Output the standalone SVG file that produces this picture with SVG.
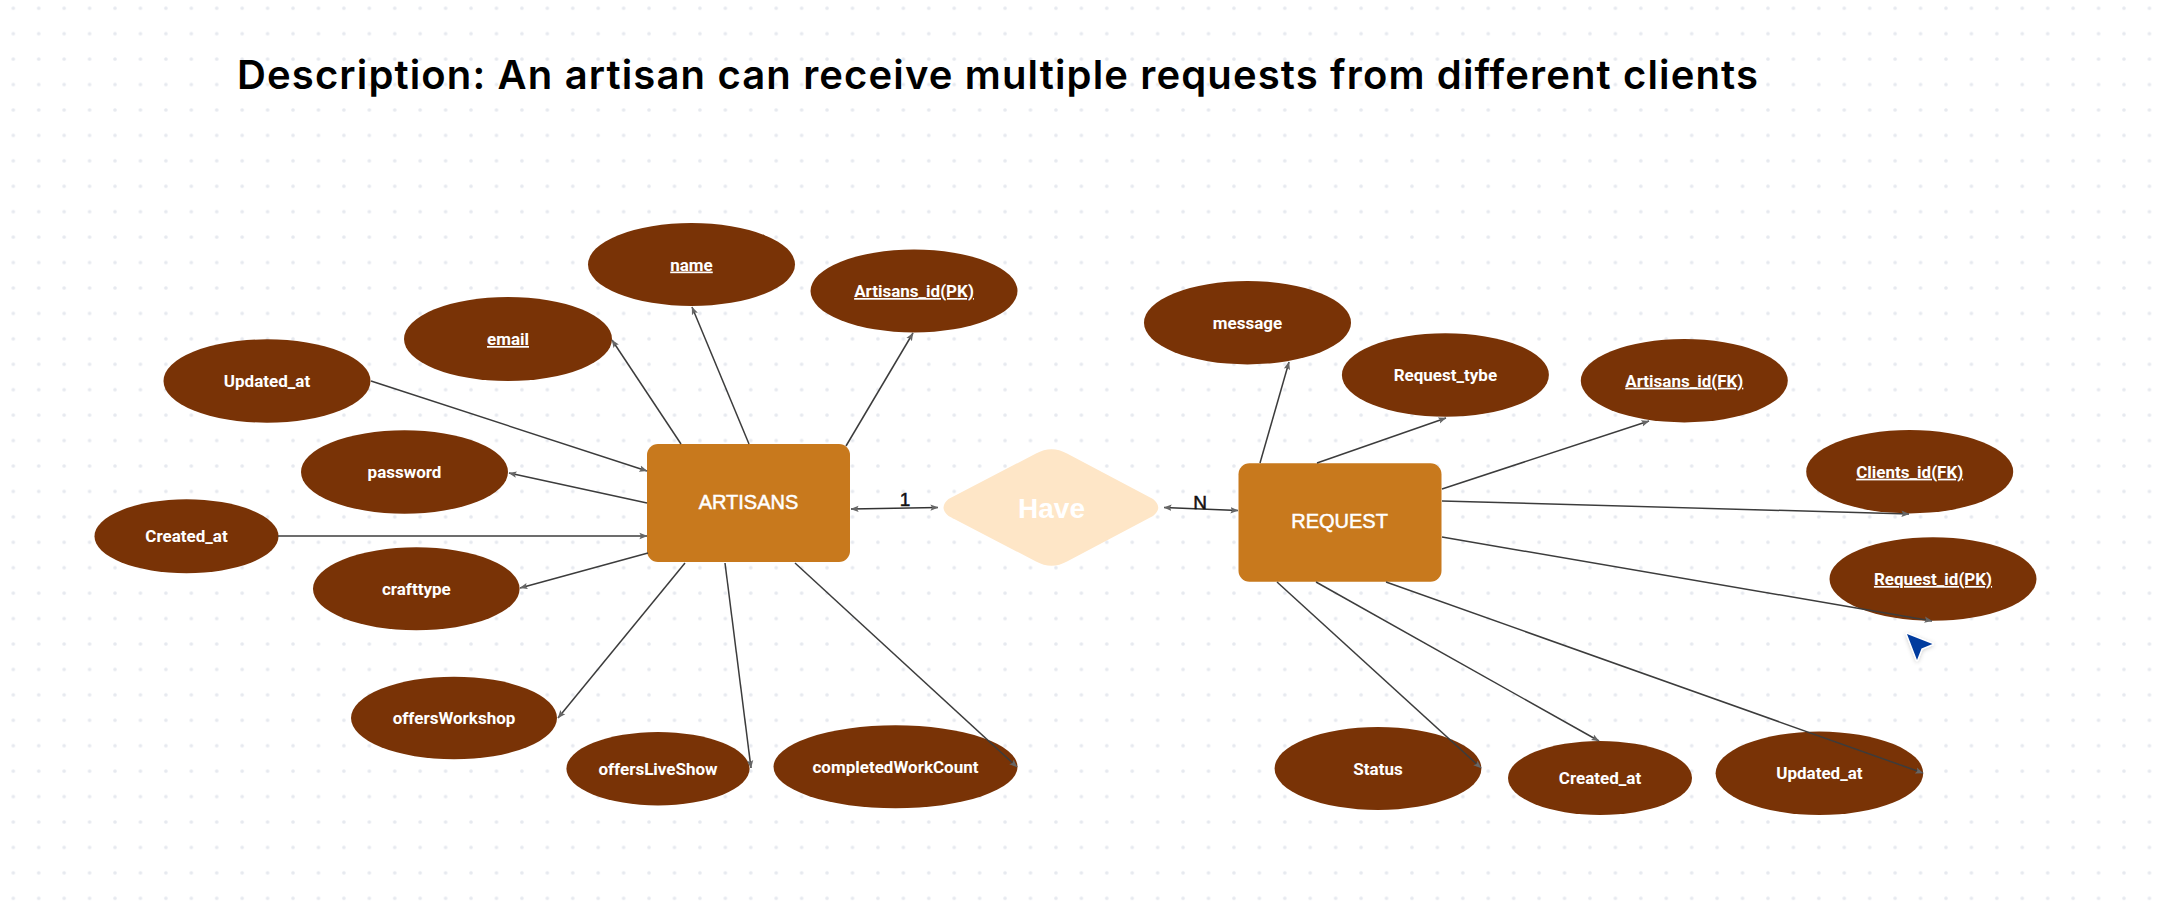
<svg xmlns="http://www.w3.org/2000/svg" width="2164" height="915" viewBox="0 0 2164 915">
<defs>
<pattern id="dots" patternUnits="userSpaceOnUse" x="0.6" y="-4.5" width="25.43" height="25.43">
<circle cx="12.7" cy="12.7" r="1.8" fill="#e6e9ef"/>
</pattern>
<marker id="arr" viewBox="0 0 10 10" refX="9.5" refY="5" markerWidth="8" markerHeight="8" markerUnits="userSpaceOnUse" orient="auto-start-reverse">
<path d="M0,1 L10,5 L0,9 L2,5 z" fill="#666"/>
</marker>
<filter id="shadow" x="-50%" y="-50%" width="200%" height="200%">
<feDropShadow dx="0" dy="1" stdDeviation="2" flood-color="#000" flood-opacity="0.2"/>
</filter>
</defs>
<style>
.attr{fill:#793306;}
.atxt{fill:#ffffff;font-family:Roboto,"Liberation Sans",sans-serif;font-size:17px;font-weight:700;text-anchor:middle;}
.u{text-decoration:underline;}
.ent{fill:#c8791d;}
.etxt{fill:#ffffff;stroke:#ffffff;stroke-width:0.5;font-family:"Liberation Sans",Arial,sans-serif;font-size:20px;text-anchor:middle;}
.conn{stroke:#3c3c3c;stroke-width:1.5;fill:none;marker-end:url(#arr);}
.rel{stroke:#333;stroke-width:1.5;fill:none;marker-end:url(#arr);marker-start:url(#arr);}
.card{fill:#111;stroke:#111;stroke-width:0.5;font-family:"Liberation Sans",Arial,sans-serif;font-size:19px;text-anchor:middle;}
</style>
<rect width="2164" height="915" fill="#ffffff"/>
<rect width="2164" height="915" fill="url(#dots)"/>

<text id="title" x="237" y="89" font-family="Inter,'Liberation Sans',sans-serif" font-size="40" font-weight="600" fill="#000" textLength="1521" lengthAdjust="spacing">Description: An artisan can receive multiple requests from different clients</text>

<g id="attr-name"><ellipse class="attr" cx="691.5" cy="264.5" rx="103.5" ry="41.5"/><text class="atxt u" x="691.5" y="270.5">name</text></g>
<g id="attr-artisans-id-pk"><ellipse class="attr" cx="914" cy="291" rx="103.5" ry="41.5"/><text class="atxt u" x="914" y="297">Artisans_id(PK)</text></g>
<g id="attr-email"><ellipse class="attr" cx="508" cy="339" rx="104" ry="42"/><text class="atxt u" x="508" y="345">email</text></g>
<g id="attr-updated-at-a"><ellipse class="attr" cx="267" cy="381" rx="103.5" ry="41.7"/><text class="atxt" x="267" y="387">Updated_at</text></g>
<g id="attr-password"><ellipse class="attr" cx="404.5" cy="472" rx="103.5" ry="41.7"/><text class="atxt" x="404.5" y="478">password</text></g>
<g id="attr-created-at-a"><ellipse class="attr" cx="186.5" cy="536.3" rx="92" ry="37"/><text class="atxt" x="186.5" y="542.3">Created_at</text></g>
<g id="attr-crafttype"><ellipse class="attr" cx="416.3" cy="588.8" rx="103.3" ry="41.5"/><text class="atxt" x="416.3" y="594.8">crafttype</text></g>
<g id="attr-offersworkshop"><ellipse class="attr" cx="454" cy="718" rx="103" ry="41.3"/><text class="atxt" x="454" y="724">offersWorkshop</text></g>
<g id="attr-offersliveshow"><ellipse class="attr" cx="658" cy="768.7" rx="91.6" ry="36.7"/><text class="atxt" x="658" y="774.7">offersLiveShow</text></g>
<g id="attr-completedworkcount"><ellipse class="attr" cx="895.5" cy="766.8" rx="122" ry="41.5"/><text class="atxt" x="895.5" y="772.8">completedWorkCount</text></g>

<g id="attr-message"><ellipse class="attr" cx="1247.5" cy="322.7" rx="103.5" ry="41.7"/><text class="atxt" x="1247.5" y="328.7">message</text></g>
<g id="attr-request-tybe"><ellipse class="attr" cx="1445.4" cy="375" rx="103.5" ry="41.7"/><text class="atxt" x="1445.4" y="381">Request_tybe</text></g>
<g id="attr-artisans-id-fk"><ellipse class="attr" cx="1684.3" cy="380.7" rx="103.5" ry="41.7"/><text class="atxt u" x="1684.3" y="386.7">Artisans_id(FK)</text></g>
<g id="attr-clients-id-fk"><ellipse class="attr" cx="1909.7" cy="471.7" rx="103.5" ry="41.7"/><text class="atxt u" x="1909.7" y="477.7">Clients_id(FK)</text></g>
<g id="attr-request-id-pk"><ellipse class="attr" cx="1933" cy="579" rx="103.5" ry="41.7"/><text class="atxt u" x="1933" y="585">Request_id(PK)</text></g>
<g id="attr-status"><ellipse class="attr" cx="1378" cy="768.5" rx="103.4" ry="41.5"/><text class="atxt" x="1378" y="774.5">Status</text></g>
<g id="attr-created-at-r"><ellipse class="attr" cx="1600" cy="778" rx="92" ry="37"/><text class="atxt" x="1600" y="784">Created_at</text></g>
<g id="attr-updated-at-r"><ellipse class="attr" cx="1819.4" cy="773.3" rx="103.8" ry="41.7"/><text class="atxt" x="1819.4" y="779.3">Updated_at</text></g>

<g id="entity-artisans"><rect class="ent" x="647" y="444" width="203" height="118" rx="11"/><text class="etxt" x="748.5" y="509">ARTISANS</text></g>
<g id="entity-request"><rect class="ent" x="1238.5" y="463.3" width="203" height="118.4" rx="11"/><text class="etxt" x="1339.6" y="527.5">REQUEST</text></g>
<g id="rel-have"><path d="M1036,453.5 Q1051.5,445 1067,453.5 L1153,499 Q1163.5,507.5 1153,516 L1067,561.5 Q1051.5,570 1036,561.5 L948.5,516 Q938.5,507.5 948.5,499 Z" fill="#fee6c7"/><text x="1051.5" y="518" font-family="'Liberation Sans',Arial,sans-serif" font-size="28" font-weight="700" fill="#ffffff" text-anchor="middle">Have</text></g>

<g id="connectors">
<line class="conn" x1="681" y1="444" x2="612" y2="340"/>
<line class="conn" x1="749" y1="444" x2="692" y2="307"/>
<line class="conn" x1="846" y1="446" x2="913" y2="333"/>
<line class="conn" x1="371" y1="381" x2="647" y2="471"/>
<line class="conn" x1="647" y1="503" x2="509" y2="473"/>
<line class="conn" x1="278" y1="536" x2="647" y2="536"/>
<line class="conn" x1="648" y1="553" x2="520" y2="588"/>
<line class="conn" x1="685" y1="563" x2="558" y2="718"/>
<line class="conn" x1="725" y1="563" x2="751" y2="768"/>
<line class="conn" x1="795" y1="563" x2="1017" y2="767"/>
<line class="conn" x1="1260" y1="463" x2="1289" y2="362"/>
<line class="conn" x1="1317" y1="463" x2="1446" y2="418"/>
<line class="conn" x1="1442" y1="489" x2="1649" y2="421"/>
<line class="conn" x1="1442" y1="501" x2="1909" y2="514"/>
<line class="conn" x1="1442" y1="537" x2="1932" y2="621"/>
<line class="conn" x1="1277" y1="582" x2="1481" y2="768"/>
<line class="conn" x1="1316" y1="582" x2="1599" y2="741"/>
<line class="conn" x1="1386" y1="582" x2="1923" y2="773"/>
<line class="rel" x1="851" y1="509" x2="938" y2="507.5"/>
<line class="rel" x1="1164" y1="507.5" x2="1238" y2="510.5"/>
<text class="card" x="905" y="505.5">1</text>
<text class="card" x="1200" y="509">N</text>
</g>

<g id="cursor" filter="url(#shadow)"><path d="M1907,634 L1932.5,644 L1921.5,648.5 L1917,660 Z" fill="#003a9e" stroke="#ffffff" stroke-width="2.5" stroke-linejoin="round" paint-order="stroke"/></g>
</svg>
